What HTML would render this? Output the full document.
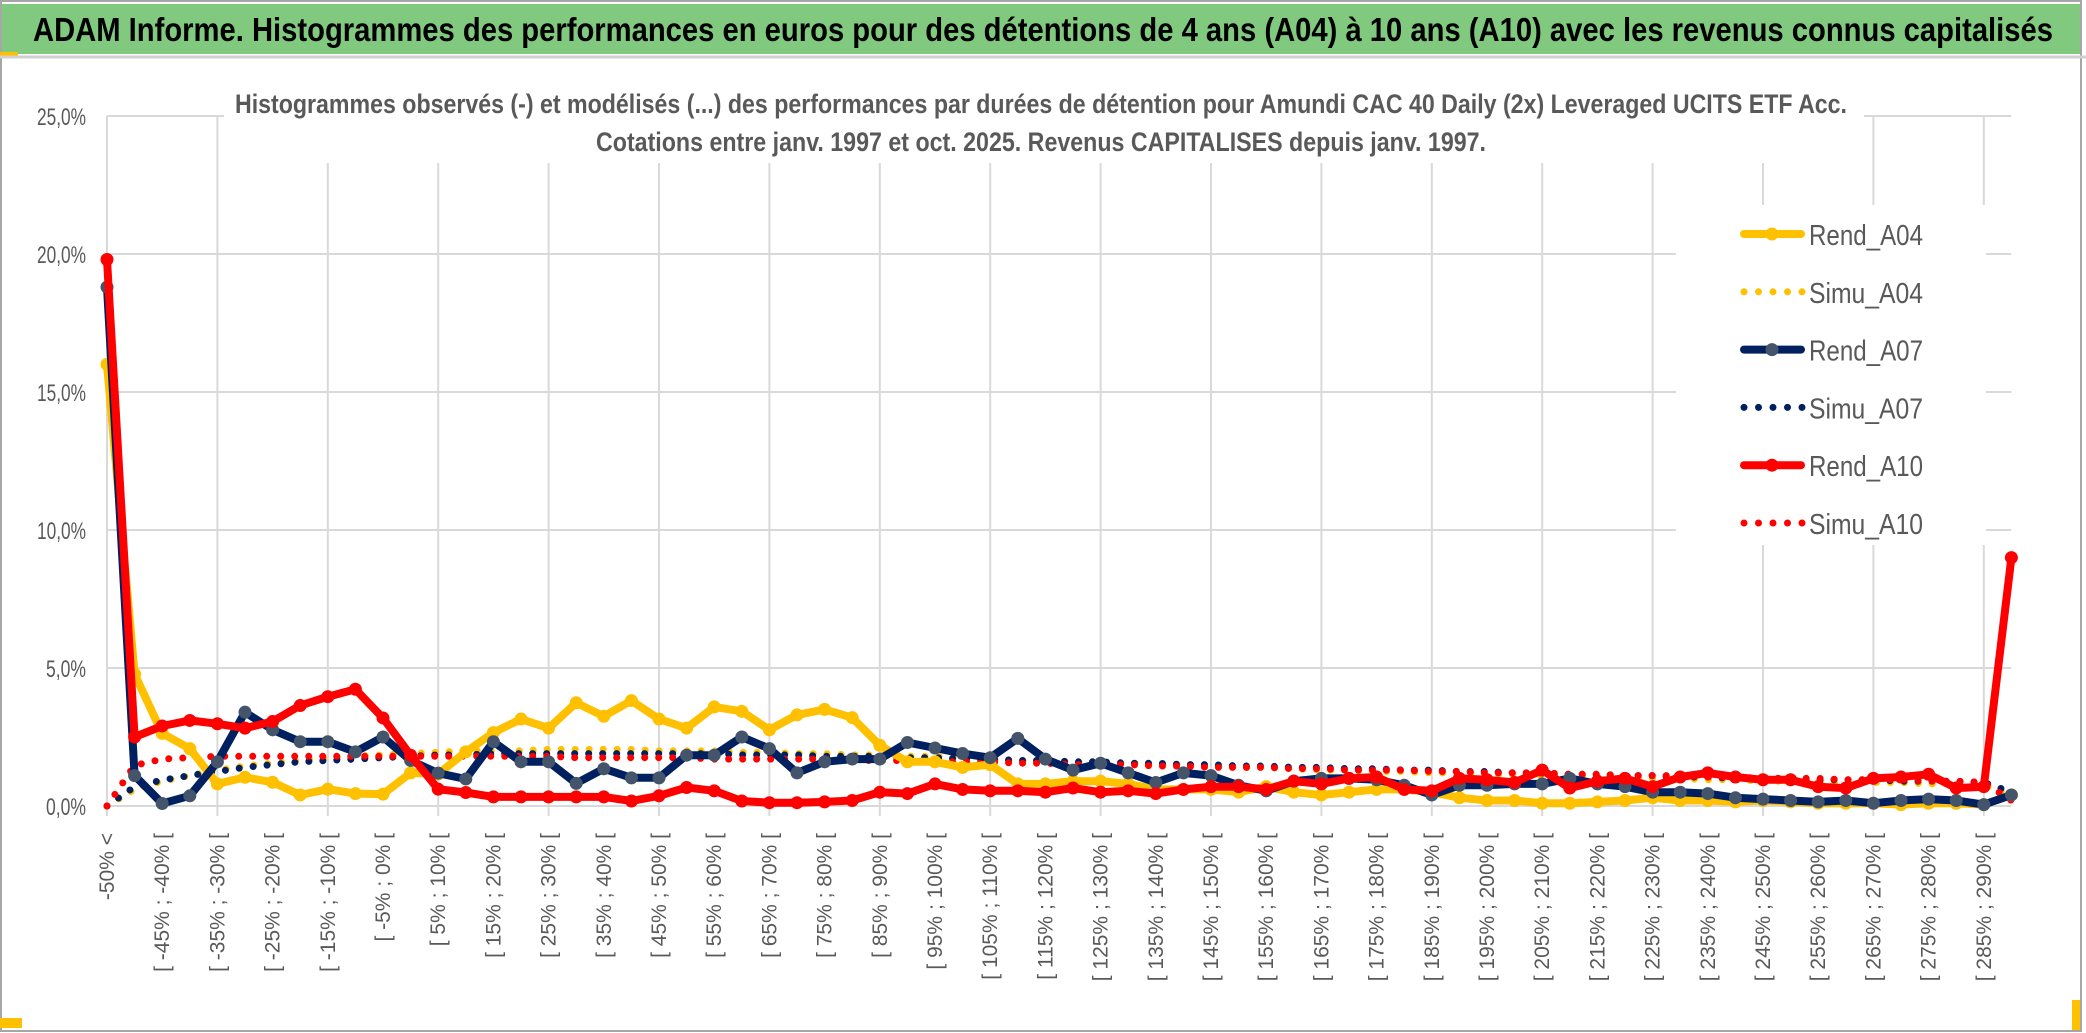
<!DOCTYPE html>
<html><head><meta charset="utf-8">
<style>
html,body{margin:0;padding:0;background:#fff;}
svg{display:block;}
text{font-family:"Liberation Sans Narrow","Liberation Sans",sans-serif;}
</style></head>
<body>
<svg id="chart" width="2086" height="1033" viewBox="0 0 2086 1033" xmlns="http://www.w3.org/2000/svg">
  <rect x="0" y="0" width="2086" height="1033" fill="#fff"/>
  <rect x="1" y="1" width="2080" height="1030" fill="none" stroke="#a6a6a6" stroke-width="2"/>
  <rect x="2" y="4" width="2078" height="50" fill="#80c97f"/>
  <rect x="0" y="52" width="18" height="4" fill="#ffc000"/>
  <line x1="0" y1="57" x2="2086" y2="57" stroke="#d0d0d0" stroke-width="3"/>
  <text x="33" y="41" font-size="33" font-weight="bold" fill="#000" textLength="2020" lengthAdjust="spacingAndGlyphs">ADAM Informe. Histogrammes des performances en euros pour des détentions de 4 ans (A04) à 10 ans (A10) avec les revenus connus capitalisés</text>
  <rect x="0" y="1018" width="22" height="10" fill="#ffc000"/>
  <rect x="2072" y="1000" width="8" height="30" fill="#ffc000"/>
  <g id="grid"></g>
  <g id="ylabels"></g>
  <g id="xlabels"></g>
  <rect x="224" y="75" width="1640" height="88" fill="#fff"/>
  <text x="1041" y="113" font-size="27" font-weight="bold" fill="#595959" text-anchor="middle" textLength="1612" lengthAdjust="spacingAndGlyphs">Histogrammes observés (-) et modélisés (...) des performances par durées de détention pour Amundi CAC 40 Daily (2x) Leveraged UCITS ETF Acc.</text>
  <text x="1041" y="151" font-size="27" font-weight="bold" fill="#595959" text-anchor="middle" textLength="890" lengthAdjust="spacingAndGlyphs">Cotations entre janv. 1997 et oct. 2025. Revenus CAPITALISES depuis janv. 1997.</text>
  <g id="series"></g>
  <g id="legend"></g>
</svg>
<script>
const rendA04 = [16.0,4.78,2.63,2.08,0.8,1.04,0.86,0.4,0.61,0.45,0.43,1.2,1.16,1.96,2.66,3.15,2.82,3.74,3.25,3.82,3.15,2.82,3.59,3.43,2.76,3.3,3.5,3.2,2.2,1.6,1.6,1.4,1.5,0.8,0.8,0.9,0.9,0.8,0.6,0.6,0.6,0.5,0.7,0.5,0.4,0.5,0.6,0.6,0.5,0.3,0.2,0.2,0.1,0.1,0.15,0.2,0.3,0.2,0.2,0.15,0.2,0.15,0.1,0.1,0.1,0.05,0.1,0.1,0.05,0.4];
const rendA07 = [18.8,1.1,0.09,0.37,1.6,3.4,2.76,2.33,2.33,1.96,2.5,1.65,1.19,0.98,2.33,1.6,1.6,0.82,1.35,1.02,1.02,1.84,1.84,2.5,2.08,1.2,1.6,1.7,1.7,2.3,2.1,1.9,1.75,2.45,1.7,1.3,1.55,1.2,0.85,1.2,1.1,0.75,0.55,0.9,1.0,1.0,0.95,0.75,0.4,0.75,0.75,0.8,0.8,1.0,0.8,0.7,0.5,0.5,0.45,0.3,0.25,0.2,0.15,0.2,0.1,0.2,0.25,0.2,0.05,0.4];
const rendA10 = [19.8,2.5,2.9,3.1,2.98,2.82,3.06,3.64,3.96,4.23,3.19,1.84,0.61,0.49,0.33,0.33,0.33,0.33,0.33,0.18,0.37,0.67,0.55,0.18,0.12,0.12,0.15,0.2,0.5,0.45,0.8,0.6,0.55,0.55,0.5,0.65,0.5,0.55,0.45,0.6,0.7,0.7,0.6,0.9,0.8,1.0,1.05,0.6,0.55,1.0,0.95,0.85,1.3,0.65,0.9,1.0,0.7,1.05,1.2,1.05,0.95,0.95,0.7,0.65,1.0,1.05,1.15,0.65,0.7,9.0];
const simuA04 = [0,0.6,0.9,1.1,1.3,1.45,1.55,1.65,1.75,1.8,1.85,1.9,1.95,2.0,2.0,2.0,2.05,2.05,2.05,2.05,2.0,2.0,2.0,1.95,1.95,1.9,1.9,1.85,1.85,1.8,1.8,1.75,1.7,1.65,1.65,1.6,1.55,1.55,1.5,1.5,1.45,1.4,1.4,1.35,1.3,1.3,1.25,1.25,1.2,1.2,1.15,1.15,1.1,1.1,1.05,1.05,1.0,1.0,0.95,0.95,0.9,0.9,0.9,0.85,0.85,0.85,0.8,0.8,0.75,0.4];
const simuA07 = [0,0.7,0.94,1.1,1.25,1.4,1.5,1.6,1.65,1.7,1.75,1.8,1.85,1.85,1.9,1.9,1.9,1.9,1.9,1.9,1.9,1.9,1.9,1.85,1.85,1.85,1.8,1.8,1.8,1.75,1.75,1.7,1.7,1.65,1.65,1.6,1.6,1.55,1.55,1.5,1.5,1.45,1.45,1.4,1.4,1.35,1.35,1.3,1.3,1.25,1.25,1.2,1.2,1.15,1.15,1.1,1.1,1.05,1.05,1.0,1.0,1.0,0.95,0.95,0.95,0.9,0.9,0.9,0.85,0.5];
const simuA10 = [0,1.47,1.7,1.75,1.8,1.8,1.8,1.8,1.8,1.8,1.8,1.8,1.8,1.8,1.8,1.8,1.8,1.75,1.75,1.75,1.75,1.75,1.7,1.7,1.7,1.7,1.7,1.65,1.65,1.65,1.6,1.6,1.6,1.55,1.55,1.5,1.5,1.5,1.45,1.45,1.4,1.4,1.4,1.35,1.35,1.3,1.3,1.3,1.25,1.25,1.2,1.2,1.2,1.15,1.15,1.1,1.1,1.1,1.05,1.05,1.0,1.0,1.0,0.95,0.95,0.95,0.9,0.9,0.85,0.2];
const yTicks = [0,5,10,15,20,25];
const yTickLabels = ["0,0%","5,0%","10,0%","15,0%","20,0%","25,0%"];

const NS = "http://www.w3.org/2000/svg";
const N = rendA04.length;
const X0 = 107, DX = 27.6, Y0 = 806, PX_PER_PCT = 27.6;
function xPos(i){ return X0 + DX*i; }
function yPos(v){ return Y0 - PX_PER_PCT*v; }
function el(tag, attrs, parent){
  const e = document.createElementNS(NS, tag);
  for (const k in attrs) e.setAttribute(k, attrs[k]);
  parent.appendChild(e);
  return e;
}
function catLabel(i){
  if (i === 0) return "-50% <";
  if (i === N-1) return "> 290%";
  const lo = -50 + 5*(i-1);
  return "[ " + lo + "% ; " + (lo+5) + "% [";
}

const grid = document.getElementById('grid');
yTicks.forEach((t, k) => {
  const g = el('line', {x1: X0, x2: xPos(N-1), y1: yPos(t), y2: yPos(t), stroke: '#d9d9d9', 'stroke-width': 2}, grid);
  
  
  const lab = el('text', {x: 86, y: yPos(t)+9, 'font-size': 24, fill: '#595959', 'text-anchor': 'end', textLength: (yTickLabels[k].length > 4 ? 49 : 40), lengthAdjust: 'spacingAndGlyphs'}, document.getElementById('ylabels'));
  lab.textContent = yTickLabels[k];
  
  
});
for (let i = 0; i < N; i += 4) {
  const g = el('line', {x1: xPos(i), x2: xPos(i), y1: yPos(25), y2: Y0 + 10, stroke: '#d9d9d9', 'stroke-width': 2}, grid);
  
  
}
const xl = document.getElementById('xlabels');
for (let i = 0; i < N - 1; i += 2) {
  const x = xPos(i) + 7, y = 833;
  const t = el('text', {x: x, y: y, 'font-size': 21, fill: '#595959', 'text-anchor': 'end', transform: 'rotate(-90 ' + x + ' ' + y + ')', style: 'font-family:"Liberation Sans",sans-serif'}, xl);
  t.textContent = catLabel(i);
  
  
}

const series = document.getElementById('series');
function pts(arr){ return arr.map((v,i) => xPos(i).toFixed(1) + ',' + yPos(v).toFixed(1)).join(' '); }
function dotted(arr, color, name){
  const p = el('polyline', {points: pts(arr), fill: 'none', stroke: color, 'stroke-width': 7, 'stroke-linecap': 'round', 'stroke-dasharray': '0 14'}, series);
  
  
}
function solid(arr, color, mcolor, name){
  const g = el('g', {}, series);
  
  
  el('polyline', {points: pts(arr), fill: 'none', stroke: color, 'stroke-width': 8, 'stroke-linejoin': 'round'}, g);
  arr.forEach((v,i) => {
    const c = el('circle', {cx: xPos(i), cy: yPos(v), r: 6.5, fill: mcolor}, g);
    
    
  });
}
dotted(simuA04, '#ffc000', 'simu-a04-line');
dotted(simuA07, '#002060', 'simu-a07-line');
dotted(simuA10, '#ff0000', 'simu-a10-line');
solid(rendA04, '#ffc000', '#ffc000', 'rend-a04-line');
solid(rendA07, '#002060', '#44546a', 'rend-a07-line');
solid(rendA10, '#ff0000', '#ff0000', 'rend-a10-line');

const legend = document.getElementById('legend');
el('rect', {x: 1676, y: 205, width: 310, height: 340, fill: '#fff'}, legend);
const legNames = ["Rend_A04","Simu_A04","Rend_A07","Simu_A07","Rend_A10","Simu_A10"];
const legColors = ['#ffc000','#ffc000','#002060','#002060','#ff0000','#ff0000'];
const legMarker = ['#ffc000',null,'#44546a',null,'#ff0000',null];
legNames.forEach((n, k) => {
  const y = 234 + k*57.8;
  const g = el('g', {}, legend);
  
  
  if (legMarker[k]) {
    el('line', {x1: 1744, x2: 1801, y1: y, y2: y, stroke: legColors[k], 'stroke-width': 8, 'stroke-linecap': 'round'}, g);
    el('circle', {cx: 1772, cy: y, r: 6.5, fill: legMarker[k]}, g);
  } else {
    el('line', {x1: 1744, x2: 1804, y1: y, y2: y, stroke: legColors[k], 'stroke-width': 7, 'stroke-linecap': 'round', 'stroke-dasharray': '0 14.5'}, g);
  }
  const t = el('text', {x: 1809, y: y + 11, 'font-size': 29, fill: '#595959', textLength: 114, lengthAdjust: 'spacingAndGlyphs'}, g);
  t.textContent = n;
});
</script>
</body></html>
